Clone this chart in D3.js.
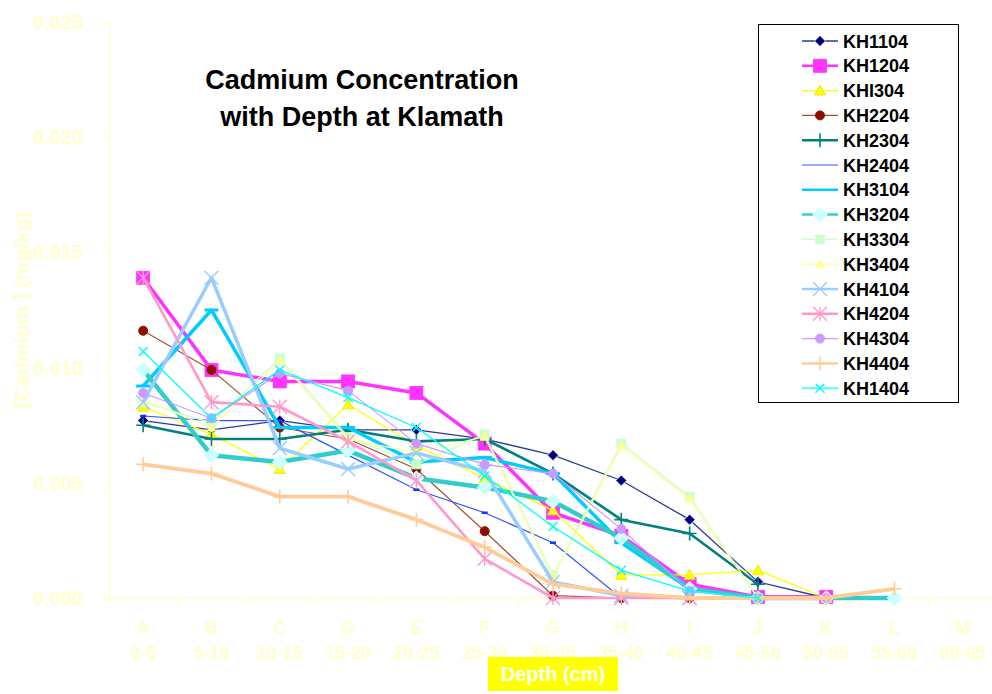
<!DOCTYPE html>
<html>
<head>
<meta charset="utf-8">
<script src="https://cdn.jsdelivr.net/npm/d3@7"></script>
<style>
  html, body { margin: 0; padding: 0; background: #ffffff; }
  svg { display: block; font-family: "Liberation Sans", Arial, sans-serif; }
</style>
</head>
<body>
<svg id="chart" width="992" height="694"></svg>
<script>
// Sampling intervals along the core
const categories = ["A", "B", "C", "D", "E", "F", "G", "H", "I", "J", "K", "L", "M"];
const depthRanges = ["0-5", "5-10", "10-15", "15-20", "20-25", "25-30", "30-35",
                     "35-40", "40-45", "45-50", "50-55", "55-60", "60-65"];
const yTicks = [0, 0.005, 0.010, 0.015, 0.020, 0.025];

// Cadmium (mg/kg) per core, one value per interval (null = not sampled)
const kh1104 = [0.0077, 0.0073, 0.0077, 0.0073, 0.0073, 0.0069, 0.0062, 0.0051, 0.0034, 0.0007, 0.0000, null, null];
const kh1204 = [0.0139, 0.0099, 0.0094, 0.0094, 0.0089, 0.0067, 0.0037, 0.0027, 0.0006, 0.00005, 0.00005, null, null];
const khi304 = [0.0083, 0.0071, 0.0056, 0.0084, 0.0066, 0.0052, 0.0038, 0.0010, 0.0010, 0.0012, 0.0000, null, null];
const kh2204 = [0.0116, 0.0099, 0.0074, 0.0069, 0.0056, 0.0029, 0.0001, 0.0000, 0.0000, null, null, null, null];
const kh2304 = [0.0075, 0.0069, 0.0069, 0.0073, 0.0068, 0.0069, 0.0054, 0.0034, 0.0028, 0.0006, null, null, null];
const kh2404 = [0.0079, 0.0077, 0.0077, 0.0062, 0.0047, 0.0037, 0.0024, 0.0000, 0.0000, null, null, null, null];
const kh3104 = [0.0092, 0.0125, 0.0074, 0.0074, 0.0059, 0.0061, 0.0054, 0.0024, 0.0004, null, null, null, null];
const kh3204 = [0.0099, 0.0062, 0.0059, 0.0064, 0.0052, 0.0048, 0.0042, 0.0026, 0.0004, 0.0000, 0.0000, 0.0000, null];
const kh3304 = [0.0085, 0.0076, 0.0104, 0.0070, 0.0058, 0.0071, 0.0010, 0.0067, 0.0044, 0.0000, null, null, null];
const kh3404 = [0.0086, 0.0074, 0.0103, 0.0069, 0.0063, 0.0070, 0.0009, 0.0066, 0.0043, 0.0000, null, null, null];
const kh4104 = [0.0085, 0.0139, 0.0065, 0.0056, 0.0063, 0.0055, 0.0007, 0.0001, 0.0000, null, null, null, null];
const kh4204 = [0.0139, 0.0085, 0.0083, 0.0068, 0.0051, 0.0017, 0.0000, 0.0000, 0.0000, null, null, null, null];
const kh4304 = [0.0089, 0.0078, 0.00975, 0.0090, 0.0067, 0.0058, 0.0054, 0.0030, 0.0003, 0.0000, 0.0000, null, null];
const kh4404 = [0.0058, 0.0054, 0.0044, 0.0044, 0.0034, 0.0022, 0.0006, 0.0002, 0.0000, 0.0000, 0.0000, 0.0004, null];
const kh1404 = [0.0107, 0.0078, 0.0099, 0.0087, 0.0074, 0.0053, 0.0031, 0.0012, 0.0003, 0.0000, null, null, null];

const seriesNames = ["KH1104", "KH1204", "KHI304", "KH2204", "KH2304", "KH2404", "KH3104", "KH3204",
                     "KH3304", "KH3404", "KH4104", "KH4204", "KH4304", "KH4404", "KH1404"];
const seriesValues = [kh1104, kh1204, khi304, kh2204, kh2304, kh2404, kh3104, kh3204,
                      kh3304, kh3404, kh4104, kh4204, kh4304, kh4404, kh1404];

// Line/marker styling per core
const styles = [
  { line: "#2a3a9a", width: 1.3, marker: "diamond", size: 11, fill: "#000080", stroke: "#ffffff", legendMarker: true },
  { line: "#ff33ff", width: 3.5, marker: "square", size: 13, fill: "#ff33ff", stroke: "#ff33ff", legendMarker: true },
  { line: "#ffff00", width: 1.3, marker: "triangle", size: 11, fill: "#ffff00", stroke: "#e6e600", legendMarker: true },
  { line: "#a0522d", width: 1.2, marker: "circle", size: 9, fill: "#8b1000", stroke: "#8b1000", legendMarker: true },
  { line: "#008080", width: 2.6, marker: "plus", size: 14, fill: "none", stroke: "#008080", legendMarker: true },
  { line: "#3355ff", width: 1.2, marker: "dash", size: 6, fill: "none", stroke: "#1133ff", legendMarker: false },
  { line: "#00ccff", width: 3.5, marker: "bar", size: 14, fill: "none", stroke: "#00ccff", legendMarker: false },
  { line: "#33cccc", width: 4.5, marker: "diamond", size: 15, fill: "#ccffff", stroke: "#ccffff", legendMarker: true },
  { line: "#ccffcc", width: 1.3, marker: "square", size: 9, fill: "#ccffcc", stroke: "#ccffcc", legendMarker: true },
  { line: "#ffff99", width: 1.3, marker: "triangle", size: 9, fill: "#ffff99", stroke: "#ffff99", legendMarker: true },
  { line: "#99ccff", width: 3.5, marker: "x", size: 14, fill: "none", stroke: "#99ccff", legendMarker: true },
  { line: "#ff99cc", width: 2.6, marker: "asterisk", size: 14, fill: "none", stroke: "#ff99cc", legendMarker: true },
  { line: "#cc99ff", width: 1.2, marker: "circle", size: 9, fill: "#cc99ff", stroke: "#cc99ff", legendMarker: true },
  { line: "#ffcc99", width: 3.8, marker: "plus", size: 14, fill: "none", stroke: "#ffcc99", legendMarker: true },
  { line: "#00ffff", width: 1.3, marker: "x", size: 9, fill: "none", stroke: "#00ffff", legendMarker: true }
];

const axisColor = "#ffffcc";
const svg = d3.select("#chart");

const plot = { left: 109, right: 997, top: 22, bottom: 598 };

const x = d3.scalePoint().domain(categories).range([plot.left, plot.right]).padding(0.5);
const xBand = d3.scaleBand().domain(categories).range([plot.left, plot.right]);
const y = d3.scaleLinear().domain([0, 0.025]).range([plot.bottom, plot.top]);

// Y axis
const yAxis = svg.append("g").attr("transform", `translate(${plot.left},0)`)
  .call(d3.axisLeft(y).tickValues(yTicks).tickFormat(d3.format(".3f")).tickSize(6).tickPadding(20));
yAxis.select(".domain").attr("stroke", axisColor).attr("stroke-width", 1.5);
yAxis.selectAll(".tick line").attr("stroke", axisColor).attr("stroke-width", 1.5);
yAxis.selectAll(".tick text").attr("fill", axisColor).attr("font-size", 20).attr("font-weight", "bold")
  .attr("font-family", "Liberation Sans, Arial, sans-serif");

// X axis: tick marks at interval boundaries, letter and depth labels at centres
const xAxis = svg.append("g").attr("transform", `translate(0,${plot.bottom})`);
xAxis.append("line").attr("x1", plot.left).attr("x2", 992).attr("y1", 0).attr("y2", 0)
  .attr("stroke", axisColor).attr("stroke-width", 1.5);
xAxis.selectAll("line.tk").data(categories).join("line").attr("class", "tk")
  .attr("x1", d => xBand(d)).attr("x2", d => xBand(d)).attr("y1", 0).attr("y2", 6)
  .attr("stroke", axisColor).attr("stroke-width", 1.5);
xAxis.selectAll("text.cat").data(categories).join("text").attr("class", "cat")
  .attr("x", d => x(d)).attr("y", 36).attr("text-anchor", "middle")
  .attr("fill", axisColor).attr("font-size", 18).attr("font-weight", "bold").text(d => d);
xAxis.selectAll("text.rng").data(depthRanges).join("text").attr("class", "rng")
  .attr("x", (d, i) => x(categories[i])).attr("y", 61).attr("text-anchor", "middle")
  .attr("fill", axisColor).attr("font-size", 18).attr("font-weight", "bold").text(d => d);

// Axis titles
svg.append("rect").attr("x", 488).attr("y", 657).attr("width", 130).attr("height", 34).attr("fill", "#ffff00");
svg.append("text").attr("x", 553).attr("y", 681).attr("text-anchor", "middle")
  .attr("fill", "#ffffff").attr("font-size", 20).attr("font-weight", "bold").text("Depth (cm)");
svg.append("text").attr("transform", "translate(29,310) rotate(-90)").attr("text-anchor", "middle")
  .attr("fill", axisColor).attr("font-size", 21).attr("font-weight", "bold").text("[Cadmium ] (mg/kg)");

// Chart title
const title = svg.append("text").attr("text-anchor", "middle").attr("font-size", 27)
  .attr("font-weight", "bold").attr("fill", "#000000");
title.append("tspan").attr("x", 362).attr("y", 89).text("Cadmium Concentration");
title.append("tspan").attr("x", 362).attr("y", 126).text("with Depth at Klamath");

// Marker drawing
function drawMarker(g, st, cx, cy) {
  const s = st.size, h = s / 2;
  switch (st.marker) {
    case "diamond":
      g.append("path").attr("d", `M${cx},${cy - h}L${cx + h},${cy}L${cx},${cy + h}L${cx - h},${cy}Z`)
        .attr("fill", st.fill).attr("stroke", st.stroke).attr("stroke-width", 0.8);
      break;
    case "square":
      g.append("rect").attr("x", cx - h).attr("y", cy - h).attr("width", s).attr("height", s)
        .attr("fill", st.fill).attr("stroke", st.stroke).attr("stroke-width", 0.8);
      break;
    case "triangle":
      g.append("path").attr("d", `M${cx},${cy - h}L${cx + h},${cy + h * 0.8}L${cx - h},${cy + h * 0.8}Z`)
        .attr("fill", st.fill).attr("stroke", st.stroke).attr("stroke-width", 0.8);
      break;
    case "circle":
      g.append("circle").attr("cx", cx).attr("cy", cy).attr("r", h).attr("fill", st.fill).attr("stroke", st.stroke);
      break;
    case "plus":
      g.append("path").attr("d", `M${cx - h},${cy}H${cx + h}M${cx},${cy - h}V${cy + h}`)
        .attr("stroke", st.stroke).attr("stroke-width", 1.6).attr("fill", "none");
      break;
    case "x":
      g.append("path").attr("d", `M${cx - h},${cy - h}L${cx + h},${cy + h}M${cx - h},${cy + h}L${cx + h},${cy - h}`)
        .attr("stroke", st.stroke).attr("stroke-width", 1.4).attr("fill", "none");
      break;
    case "asterisk":
      g.append("path").attr("d", `M${cx - h},${cy - h}L${cx + h},${cy + h}M${cx - h},${cy + h}L${cx + h},${cy - h}M${cx},${cy - h}V${cy + h}`)
        .attr("stroke", st.stroke).attr("stroke-width", 1.4).attr("fill", "none");
      break;
    case "dash":
      g.append("path").attr("d", `M${cx - h},${cy}H${cx + h}`)
        .attr("stroke", st.stroke).attr("stroke-width", 2.5).attr("fill", "none");
      break;
    case "bar":
      g.append("path").attr("d", `M${cx - h},${cy}H${cx + h}`)
        .attr("stroke", st.stroke).attr("stroke-width", 3).attr("fill", "none");
      break;
  }
}

// Series lines and markers
const line = d3.line().defined(d => d.v !== null).x(d => x(d.c)).y(d => y(d.v));
seriesValues.forEach((vals, i) => {
  const st = styles[i];
  const pts = vals.map((v, j) => ({ c: categories[j], v }));
  const g = svg.append("g").attr("class", "series");
  g.append("path").datum(pts).attr("d", line).attr("fill", "none")
    .attr("stroke", st.line).attr("stroke-width", st.width).attr("stroke-linejoin", "round");
  pts.filter(d => d.v !== null).forEach(d => drawMarker(g, st, x(d.c), y(d.v)));
});

// Legend
const legend = svg.append("g");
legend.append("rect").attr("x", 758.5).attr("y", 24.5).attr("width", 200).attr("height", 378)
  .attr("fill", "#ffffff").attr("stroke", "#000000").attr("stroke-width", 1);
seriesNames.forEach((name, i) => {
  const st = styles[i];
  const cy = 41 + i * 24.8;
  const g = legend.append("g");
  g.append("line").attr("x1", 802).attr("x2", 838).attr("y1", cy).attr("y2", cy)
    .attr("stroke", st.line).attr("stroke-width", Math.min(st.width, 2.5));
  if (st.legendMarker) drawMarker(g, st, 820, cy);
  g.append("text").attr("x", 843).attr("y", cy + 6.5).attr("font-size", 18).attr("font-weight", "bold")
    .attr("fill", "#000000").text(name);
});
</script>
</body>
</html>
